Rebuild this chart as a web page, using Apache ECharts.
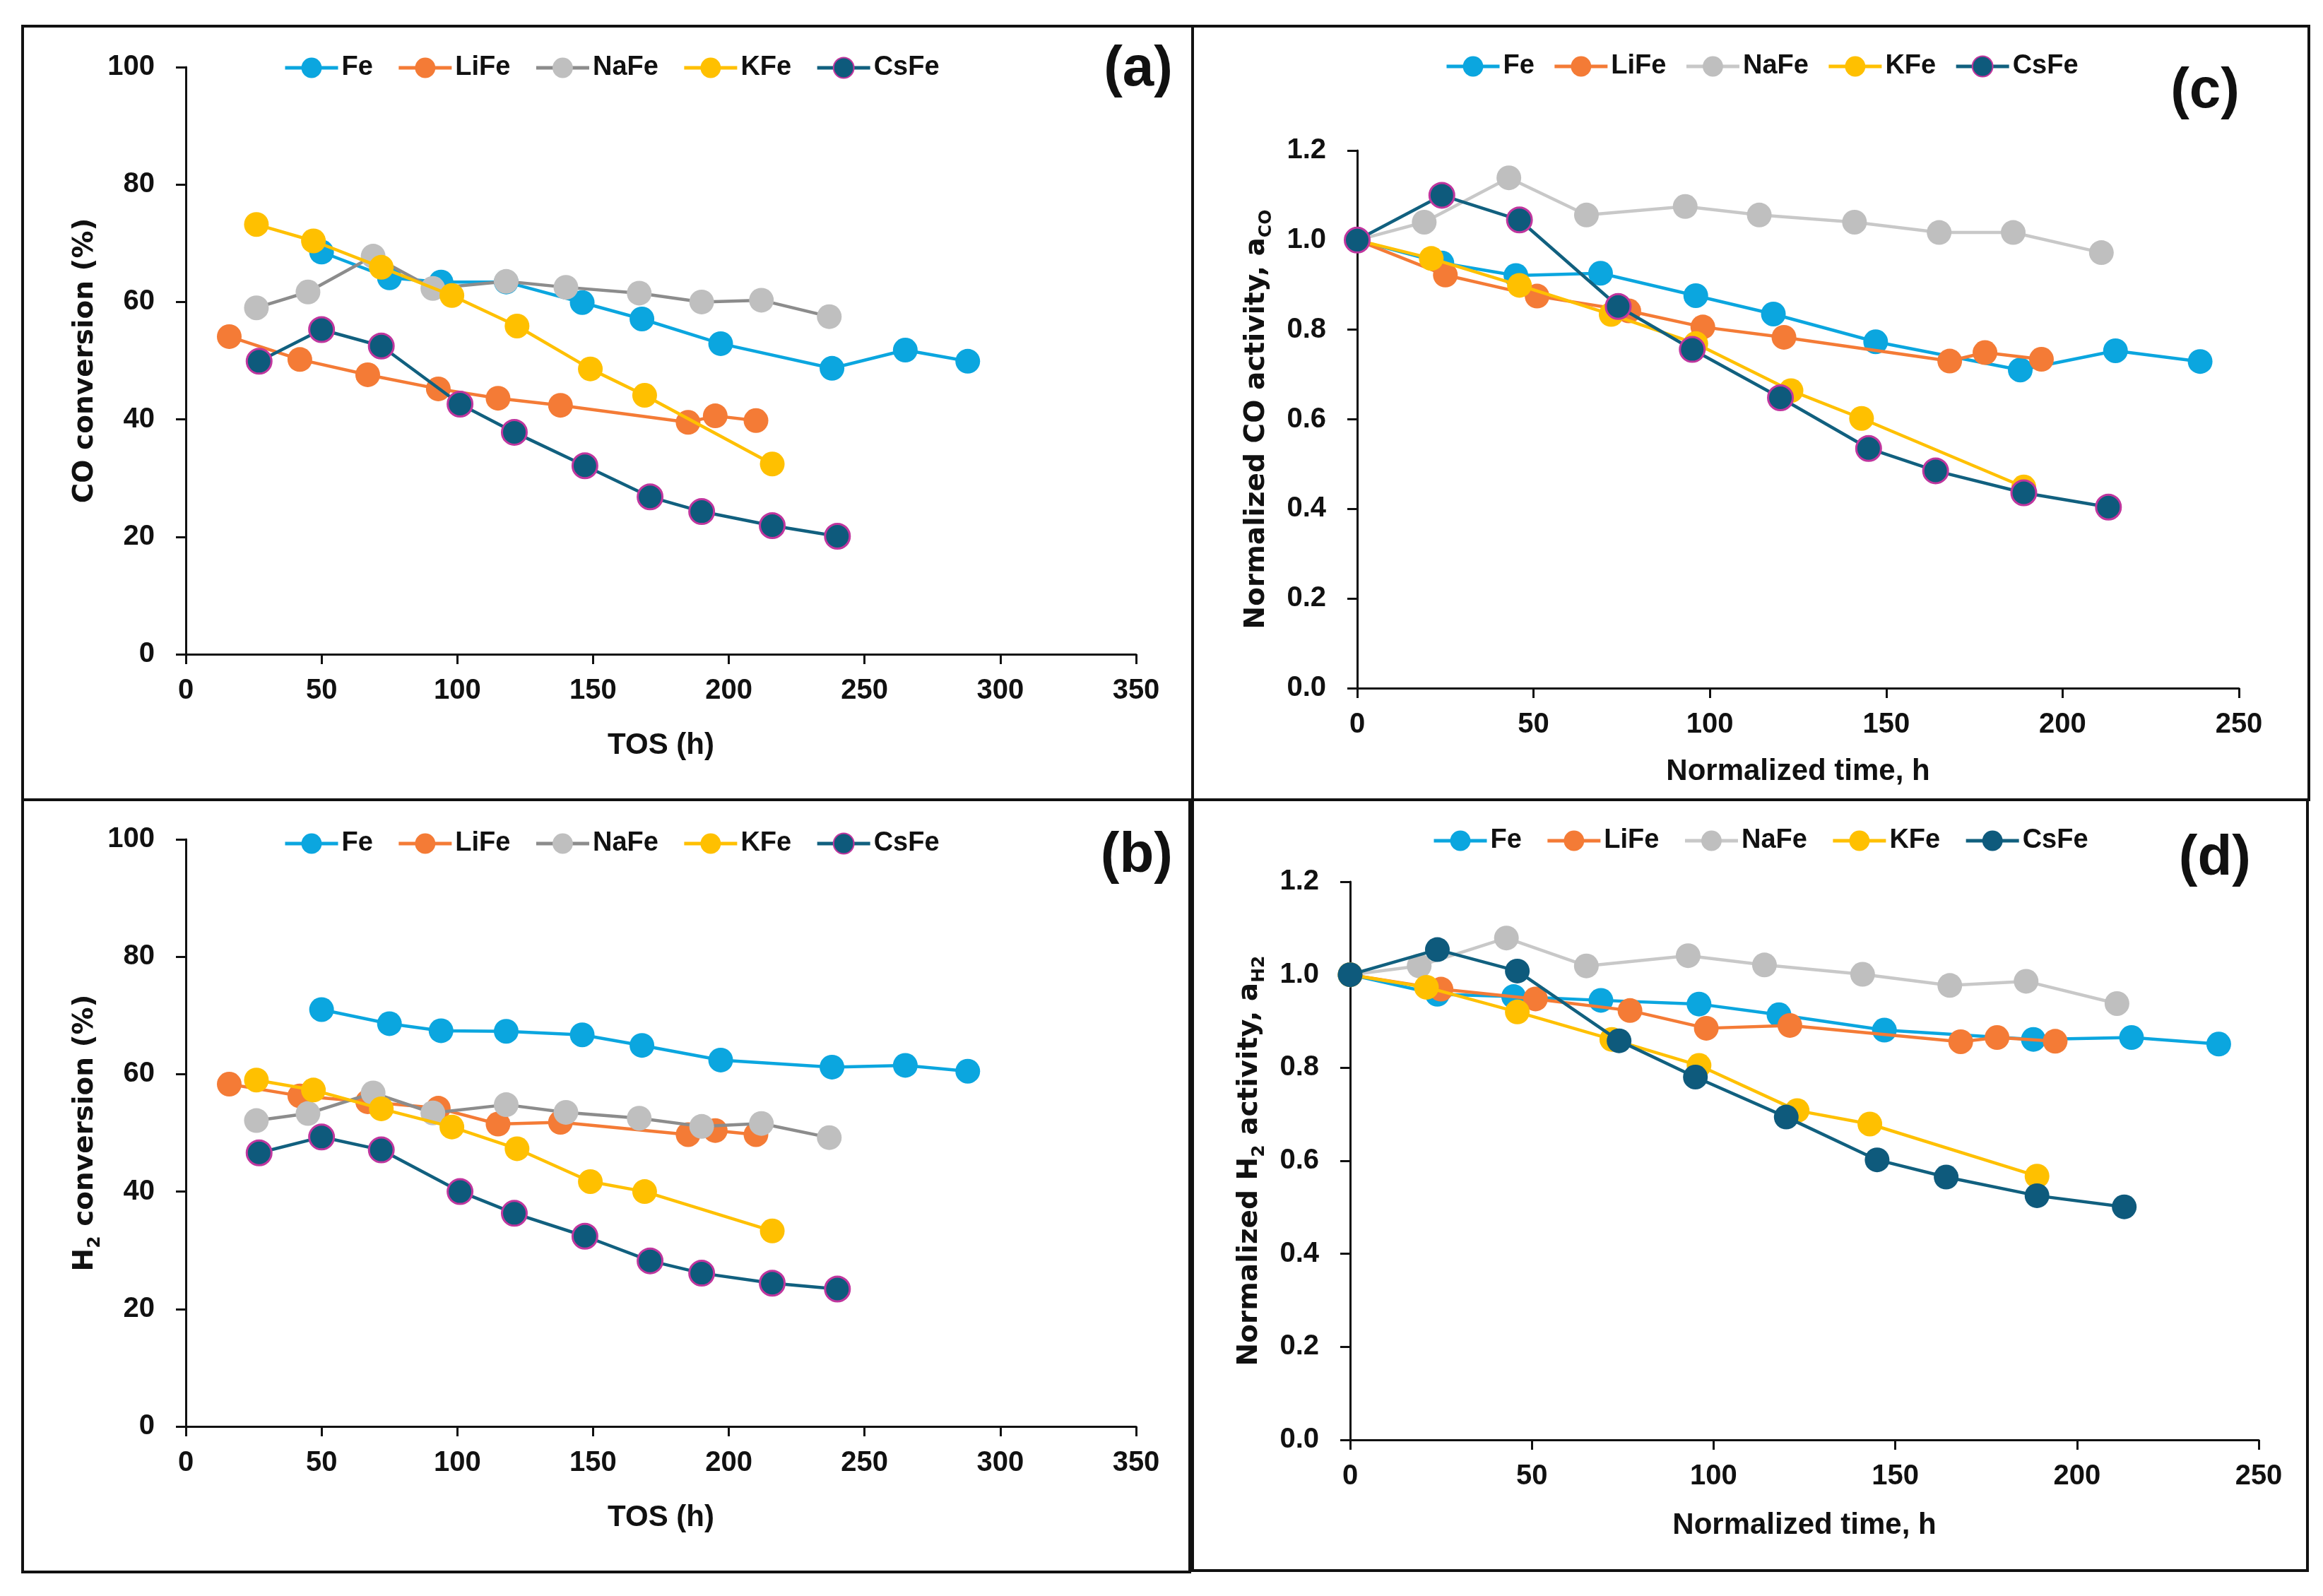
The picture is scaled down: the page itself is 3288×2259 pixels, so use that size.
<!DOCTYPE html>
<html>
<head>
<meta charset="utf-8">
<script src="https://cdn.jsdelivr.net/npm/echarts@6/dist/echarts.min.js"></script>
<style>
  html, body { margin: 0; padding: 0; background: #fff; }
  #chart { width: 3288px; height: 2259px; }
</style>
</head>
<body>
<div id="chart"></div>
<script>
// ---------- Data ----------
const seriesNames = ['Fe', 'LiFe', 'NaFe', 'KFe', 'CsFe'];

// Time on stream (h), panels (a) and (b)
const tosFe   = [50, 75, 94, 118, 146, 168, 197, 238, 265, 288];
const tosLiFe = [16, 42, 67, 93, 115, 138, 185, 195, 210];
const tosNaFe = [26, 45, 69, 91, 118, 140, 167, 190, 212, 237];
const tosKFe  = [26, 47, 72, 98, 122, 149, 169, 216];
const tosCsFe = [27, 50, 72, 101, 121, 147, 171, 190, 216, 240];

// (a) CO conversion (%)
const coFe   = [68.5, 64.1, 63.4, 63.4, 59.9, 57.1, 52.9, 48.7, 51.8, 49.9];
const coLiFe = [54.1, 50.2, 47.6, 45.2, 43.6, 42.4, 39.5, 40.6, 39.8];
const coNaFe = [59.0, 61.7, 67.8, 62.3, 63.5, 62.5, 61.5, 60.0, 60.3, 57.5];
const coKFe  = [73.2, 70.4, 65.9, 61.1, 55.9, 48.6, 44.1, 32.4];
const coCsFe = [49.9, 55.3, 52.5, 42.6, 37.8, 32.1, 26.8, 24.3, 21.9, 20.1];

// (b) H2 conversion (%)
const h2Fe   = [71.0, 68.6, 67.4, 67.3, 66.7, 64.9, 62.4, 61.2, 61.5, 60.5];
const h2LiFe = [58.3, 56.3, 55.3, 54.2, 51.5, 51.8, 49.7, 50.4, 49.7];
const h2NaFe = [52.1, 53.3, 56.8, 53.4, 54.8, 53.5, 52.5, 51.1, 51.6, 49.2];
const h2KFe  = [59.0, 57.3, 54.1, 51.0, 47.3, 41.7, 40.0, 33.3];
const h2CsFe = [46.6, 49.3, 47.1, 40.0, 36.3, 32.4, 28.2, 26.1, 24.4, 23.4];

// Normalized time (h), panels (c) and (d)
const ntFe   = [0, 24, 45, 69, 96, 118, 147, 188, 215, 239];
const ntLiFe = [0, 25, 51, 77, 98, 121, 168, 178, 194];
const ntNaFe = [0, 19, 43, 65, 93, 114, 141, 165, 186, 211];
const ntKFe  = [0, 21, 46, 72, 96, 123, 143, 189];
const ntCsFe = [0, 24, 46, 74, 95, 120, 145, 164, 189, 213];

// (c) Normalized CO activity
const aCOFe   = [1.0, 0.949, 0.921, 0.926, 0.876, 0.835, 0.773, 0.710, 0.753, 0.729];
const aCOLiFe = [1.0, 0.922, 0.875, 0.842, 0.806, 0.783, 0.730, 0.749, 0.734];
const aCONaFe = [1.0, 1.040, 1.139, 1.056, 1.075, 1.056, 1.040, 1.017, 1.017, 0.972];
const aCOKFe  = [1.0, 0.959, 0.899, 0.834, 0.769, 0.664, 0.602, 0.449];
const aCOCsFe = [1.0, 1.100, 1.045, 0.852, 0.756, 0.648, 0.535, 0.485, 0.436, 0.404];

// (d) Normalized H2 activity
const aH2Fe   = [1.0, 0.958, 0.953, 0.945, 0.937, 0.914, 0.881, 0.861, 0.865, 0.851];
const aH2LiFe = [1.0, 0.969, 0.948, 0.923, 0.885, 0.891, 0.856, 0.865, 0.857];
const aH2NaFe = [1.0, 1.019, 1.079, 1.019, 1.041, 1.021, 1.001, 0.977, 0.986, 0.938];
const aH2KFe  = [1.0, 0.973, 0.920, 0.861, 0.805, 0.708, 0.679, 0.567];
const aH2CsFe = [1.0, 1.054, 1.008, 0.858, 0.780, 0.694, 0.602, 0.565, 0.525, 0.501];

// Tick settings
const xTicksAB = { min: 0, max: 350, interval: 50 };
const yTicksAB = { min: 0, max: 100, interval: 20 };
const xTicksCD = { min: 0, max: 250, interval: 50 };
const yTicksCD = { min: 0, max: 1.2, interval: 0.2 };

// ---------- Styling ----------
const FONT = "'Liberation Sans', Arial, Helvetica, sans-serif";
const TITLEFONT = "'DejaVu Sans', Verdana, sans-serif";
const colors = {
  Fe:   { fill: '#0BA6DF', line: '#0BA6DF' },
  LiFe: { fill: '#F47B36', line: '#F47B36' },
  NaFe: { fill: '#BFBFBF', line: '#8C8C8C' },
  KFe:  { fill: '#FFC000', line: '#FFC000' },
  CsFe: { fill: '#0E5A7C', line: '#11607F' }
};

const panels = [
  { key: 'a', xs: [tosFe, tosLiFe, tosNaFe, tosKFe, tosCsFe], ys: [coFe, coLiFe, coNaFe, coKFe, coCsFe], csBorder: true, naLine: '#8C8C8C' },
  { key: 'b', xs: [tosFe, tosLiFe, tosNaFe, tosKFe, tosCsFe], ys: [h2Fe, h2LiFe, h2NaFe, h2KFe, h2CsFe], csBorder: true, naLine: '#8C8C8C' },
  { key: 'c', xs: [ntFe, ntLiFe, ntNaFe, ntKFe, ntCsFe], ys: [aCOFe, aCOLiFe, aCONaFe, aCOKFe, aCOCsFe], csBorder: true, naLine: '#C8C8C8' },
  { key: 'd', xs: [ntFe, ntLiFe, ntNaFe, ntKFe, ntCsFe], ys: [aH2Fe, aH2LiFe, aH2NaFe, aH2KFe, aH2CsFe], csBorder: false, naLine: '#C8C8C8' }
];

const grids = [
  { left: 263, top: 95, width: 1345, height: 831 },
  { left: 263, top: 1188, width: 1345, height: 831 },
  { left: 1921, top: 213, width: 1248, height: 761 },
  { left: 1911, top: 1248, width: 1286, height: 790 }
];

const axisLineStyle = { axisLine: { show: true, onZero: false, lineStyle: { color: '#111', width: 3 } },
  axisTick: { show: true, inside: false, length: 14, lineStyle: { color: '#111', width: 3 } },
  splitLine: { show: false } };

function xAxis(gi, ticks, name, gap) {
  return Object.assign({
    type: 'value', gridIndex: gi, min: ticks.min, max: ticks.max, interval: ticks.interval,
    name: name, nameLocation: 'middle', nameGap: gap,
    nameTextStyle: { fontFamily: FONT, fontWeight: 'bold', fontSize: 42, color: '#111' },
    axisLabel: { margin: 32, fontFamily: FONT, fontWeight: 'bold', fontSize: 40, color: '#111' }
  }, JSON.parse(JSON.stringify(axisLineStyle)));
}
function yAxis(gi, ticks, name, gap, decimals) {
  return Object.assign({
    type: 'value', gridIndex: gi, min: ticks.min, max: ticks.max, interval: ticks.interval,
    name: name, nameLocation: 'middle', nameGap: gap, nameRotate: 90,
    nameTextStyle: { fontFamily: TITLEFONT, fontWeight: 'bold', fontSize: 39, color: '#111', lineHeight: 52,
      rich: { s: { fontFamily: TITLEFONT, fontWeight: 'bold', fontSize: 25, lineHeight: 25, verticalAlign: 'bottom', color: '#111' } } },
    axisLabel: { margin: 44, fontFamily: FONT, fontWeight: 'bold', fontSize: 40, color: '#111',
      formatter: v => decimals ? v.toFixed(decimals) : String(v) }
  }, JSON.parse(JSON.stringify(axisLineStyle)));
}

const xAxes = [
  xAxis(0, xTicksAB, 'TOS (h)', 108),
  xAxis(1, xTicksAB, 'TOS (h)', 108),
  xAxis(2, xTicksCD, 'Normalized time, h', 97),
  xAxis(3, xTicksCD, 'Normalized time, h', 100)
];
const yAxes = [
  yAxis(0, yTicksAB, 'CO conversion (%)', 116, 0),
  yAxis(1, yTicksAB, 'H{s|2} conversion (%)', 116, 0),
  yAxis(2, yTicksCD, 'Normalized CO activity, a{s|CO}', 116, 1),
  yAxis(3, yTicksCD, 'Normalized H{s|2} activity, a{s|H2}', 116, 1)
];

const series = [];
panels.forEach((p, gi) => {
  seriesNames.forEach((n, si) => {
    const c = colors[n];
    const isCs = n === 'CsFe';
    const lineColor = n === 'NaFe' ? p.naLine : c.line;
    series.push({
      name: p.key + ':' + n,
      type: 'line',
      xAxisIndex: gi, yAxisIndex: gi,
      data: p.xs[si].map((x, i) => [x, p.ys[si][i]]),
      symbol: 'circle', symbolSize: 35, showSymbol: true,
      lineStyle: { color: lineColor, width: 4.5 },
      itemStyle: { color: c.fill, borderColor: (isCs && p.csBorder) ? '#C0369E' : c.fill, borderWidth: (isCs && p.csBorder) ? 3 : 0 },
      emphasis: { disabled: true },
      animation: false,
      z: 2 + si
    });
  });
});

function legend(key, left, top, gap) {
  return {
    data: seriesNames.map(n => key + ':' + n),
    left: left, top: top, orient: 'horizontal',
    itemWidth: 75, itemHeight: 36, itemGap: gap,
    selectedMode: false,
    formatter: name => name.split(':')[1],
    lineStyle: { width: 5 },
    textStyle: { fontFamily: FONT, fontWeight: 'bold', fontSize: 38, color: '#111', padding: [0, 0, 0, 0] }
  };
}

const boxes = [
  { x: 32, y: 37, w: 1656, h: 1095 },
  { x: 32, y: 1132, w: 1652, h: 1093 },
  { x: 1688, y: 37, w: 1580, h: 1095 },
  { x: 1688, y: 1132, w: 1578, h: 1091 }
];
const labels = [
  { t: '(a)', x: 1660, y: 99 },
  { t: '(b)', x: 1660, y: 1212 },
  { t: '(c)', x: 3170, y: 130 },
  { t: '(d)', x: 3186, y: 1216 }
];

const graphic = [];
boxes.forEach(b => graphic.push({ type: 'rect', shape: { x: b.x, y: b.y, width: b.w, height: b.h },
  style: { fill: 'none', stroke: '#111', lineWidth: 4 }, z: 0, silent: true }));
labels.forEach(l => graphic.push({ type: 'text', x: l.x, y: l.y, z: 10, silent: true,
  style: { text: l.t, fontFamily: FONT, fontWeight: 'bold', fontSize: 80, fill: '#111', align: 'right', verticalAlign: 'middle' } }));

const chart = echarts.init(document.getElementById('chart'), null, { renderer: 'canvas' });
chart.setOption({
  backgroundColor: '#ffffff',
  animation: false,
  grid: grids,
  xAxis: xAxes,
  yAxis: yAxes,
  legend: [
    legend('a', 396, 72, 34),
    legend('b', 396, 1170, 34),
    legend('c', 2040, 70, 26),
    legend('d', 2022, 1166, 34)
  ],
  graphic: graphic,
  series: series
});
</script>
</body>
</html>
